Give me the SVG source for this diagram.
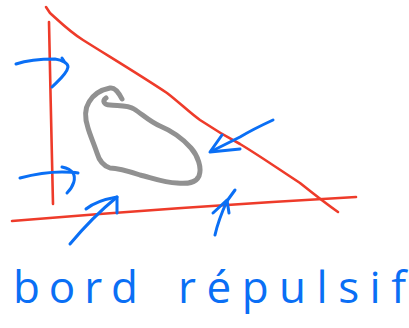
<svg xmlns="http://www.w3.org/2000/svg" width="409" height="328" viewBox="0 0 409 328">
<style>
.red{fill:none;stroke:#ee3b2a;stroke-width:2.6;stroke-linecap:round;stroke-linejoin:round}
.blue{fill:none;stroke:#0a6ff5;stroke-width:3;stroke-linecap:round;stroke-linejoin:round}
.blob{fill:none;stroke:#919191;stroke-width:5;stroke-linecap:round;stroke-linejoin:round}
.lbl{font-family:"Open Sans","DejaVu Sans",sans-serif;font-size:44px;fill:#0a6ff5}
</style>
<rect width="409" height="328" fill="#ffffff"/>
<g id="triangle">
<path class="red" d="M49,22 C50,80 52,150 53,204"/>
<path class="red" d="M46,7 L50,13 C60,22 70,32 83,40 C110,57 140,75 167,93 C180,103 190,113 200,120 C215,130 225,136 240,144 C260,156 280,170 300,183 C315,195 328,205 338,212"/>
<path class="red" d="M12,221 C120,212 250,203 356,197"/>
</g>
<g id="obstacle">
<path class="blob" d="M106,98 C102,101 104,105 110,105 C118,106 128,105 134,109 C142,114 150,122 160,126 C172,131 184,140 191,148 C198,156 202,168 199,176 C196,183 188,184 177,183 C165,183 152,178 140,175 C128,171 118,168 110,168 C104,166 99,160 97,153 C94,144 90,135 88,128 C85,119 84,110 89,102 C93,95 100,90 110,88 C115,87 119,93 122,99"/>
</g>
<g id="connectors">
<g id="arrow1"><path class="blue" d="M16,64 C28,60 42,59 55,59 C62,60 68,63 68,67 C67,74 58,81 52,87"/><path class="blue" d="M62,58 L64,61"/></g>
<g id="arrow2"><path class="blue" d="M20,178 C35,174 50,172 62,172 C68,172 73,172 78,173"/><path class="blue" d="M62,167 C67,168 71,170 73,173 C76,178 74,186 67,193"/></g>
<g id="arrow3"><path class="blue" d="M70,244 C80,232 95,215 117,197"/><path class="blue" d="M86,209 C92,204 100,200 117,197 L117,213"/></g>
<g id="arrow4"><path class="blue" d="M215,235 C217,226 222,212 227,201 L235,190"/><path class="blue" d="M213,213 L227,200 L229,213"/></g>
<g id="arrow5"><path class="blue" d="M273,120 C260,126 250,131 240,137 L212,151"/><path class="blue" d="M222,135 L210,152 L240,149"/></g>
</g>
<g id="label">
<text class="lbl" y="303"><tspan x="13" textLength="125" lengthAdjust="spacing">bord</tspan><tspan x="178" textLength="228" lengthAdjust="spacing">répulsif</tspan></text>
</g>
</svg>
